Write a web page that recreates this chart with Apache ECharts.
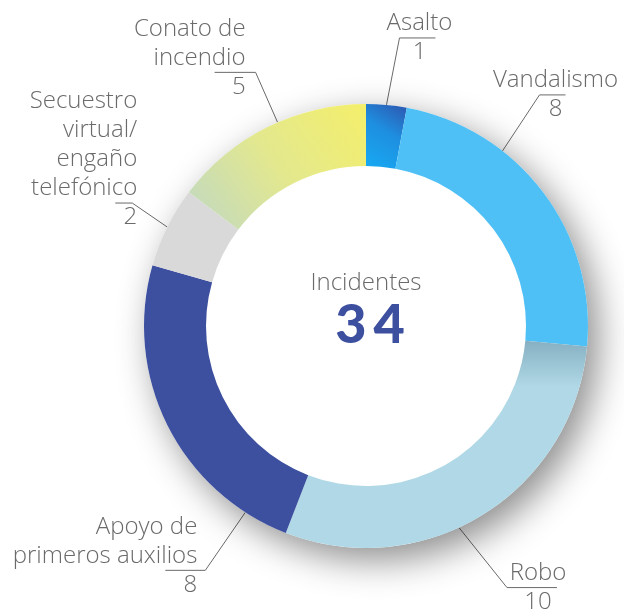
<!DOCTYPE html>
<html>
<head>
<meta charset="utf-8">
<script src="https://cdn.jsdelivr.net/npm/echarts@6/dist/echarts.min.js"></script>
<style>
  html, body { margin: 0; background: #fff; }
  #chart { width: 624px; height: 612px; }
</style>
</head>
<body>
<div id="chart"></div>
<script>
const categories = [
  'Asalto',
  'Vandalismo',
  'Robo',
  'Apoyo de\nprimeros auxilios',
  'Secuestro\nvirtual/\nengaño\ntelefónico',
  'Conato de\nincendio'
];
const values = [1, 8, 10, 8, 2, 5];
const centerTitle = 'Incidentes';

const colors = [
  new echarts.graphic.LinearGradient(0, 1, 1, 0, [
    { offset: 0, color: '#17aaf3' }, { offset: 0.55, color: '#1e8fe0' }, { offset: 1, color: '#2e55ae' }
  ]),
  '#4ec0f6',
  new echarts.graphic.LinearGradient(0, 0, 0, 1, [
    { offset: 0, color: '#86b0c2' }, { offset: 0.22, color: '#b0d8e6' }, { offset: 1, color: '#b0d8e6' }
  ]),
  '#3d4f9f',
  '#d9d9d9',
  new echarts.graphic.LinearGradient(1, 0, 0, 1, [
    { offset: 0, color: '#f4ef6b' }, { offset: 0.5, color: '#e3e88e' }, { offset: 1, color: '#bfd8c4' }
  ])
];

const CX = 366, CY = 326, R_IN = 160, R_OUT = 222;
const LH = 29;
const FONT = 'Open Sans';
// leader lines: slide anchor along rim (deg), elbow offset, tail length, text x offset from elbow
const leaders = [
  { rot: 0, dx: 13, dy: -67, len2: 36, tx: 20 },
  { rot: -15, dx: 37, dy: -56, len2: 26, tx: 16 },
  { rot: 7, dx: 48, dy: 60, len2: 50, tx: 31 },
  { rot: -30.6, dx: -40, dy: 58, len2: 40, tx: -8 },
  { rot: 0, dx: -35, dy: -24, len2: 17, tx: 5 },
  { rot: 3, dx: -22, dy: -50, len2: 41, tx: -10 }
];

const total = values.reduce((a, b) => a + b, 0);

function rotate(pt, deg) {
  const a = deg * Math.PI / 180, dx = pt[0] - CX, dy = pt[1] - CY;
  return [CX + dx * Math.cos(a) - dy * Math.sin(a), CY + dx * Math.sin(a) + dy * Math.cos(a)];
}

// name lines, then the value, then blank lines so the leader tail sits between name and value
function labelText(p) {
  const n = p.name.split('\n').length;
  return p.name + '\n' + p.value + '\n\u00a0'.repeat(n - 1);
}

const chart = echarts.init(document.getElementById('chart'));
chart.setOption({
  animation: false,
  series: [
    {
      type: 'pie',
      center: [CX, CY],
      radius: [0, R_OUT],
      silent: true,
      itemStyle: {
        color: '#fff',
        shadowBlur: 36,
        shadowOffsetX: 10,
        shadowOffsetY: 12,
        shadowColor: 'rgba(0,0,0,0.45)'
      },
      label: {
        show: true,
        position: 'center',
        formatter: () => '{a|' + centerTitle + '}\n{b|' + String(total).split('').join('\u2009') + '}\n{c|\u00a0}',
        rich: {
          a: { fontFamily: FONT, fontWeight: 300, fontSize: 24, color: '#6a6a6a', lineHeight: 30 },
          b: { fontFamily: 'Lato', fontWeight: 900, fontSize: 54, color: '#3d4f9f', lineHeight: 56, padding: [0, 0, 0, 8] },
          c: { fontSize: 10, lineHeight: 30 }
        }
      },
      labelLine: { show: false },
      data: [{ name: centerTitle, value: total }]
    },
    {
      type: 'pie',
      center: [CX, CY],
      radius: [R_IN, R_OUT],
      startAngle: 90,
      clockwise: true,
      avoidLabelOverlap: false,
      emphasis: { disabled: true },
      label: {
        show: true,
        position: 'outside',
        formatter: labelText,
        fontFamily: FONT,
        fontWeight: 300,
        fontSize: 24,
        lineHeight: LH,
        color: '#6a6a6a'
      },
      labelLine: {
        show: true,
        lineStyle: { color: '#6a6a6a', width: 1 }
      },
      labelLayout: function (p) {
        const L = leaders[p.dataIndex];
        const start = rotate(p.labelLinePoints[0], L.rot);
        const elbow = [start[0] + L.dx, start[1] + L.dy];
        const right = L.dx > 0;
        const end = [elbow[0] + (right ? L.len2 : -L.len2), elbow[1]];
        return {
          x: elbow[0] + L.tx,
          y: elbow[1],
          align: right ? 'center' : 'right',
          verticalAlign: 'middle',
          labelLinePoints: [start, elbow, end]
        };
      },
      data: categories.map((name, i) => ({
        name: name,
        value: values[i],
        itemStyle: { color: colors[i] }
      }))
    }
  ]
});
</script>
</body>
</html>
